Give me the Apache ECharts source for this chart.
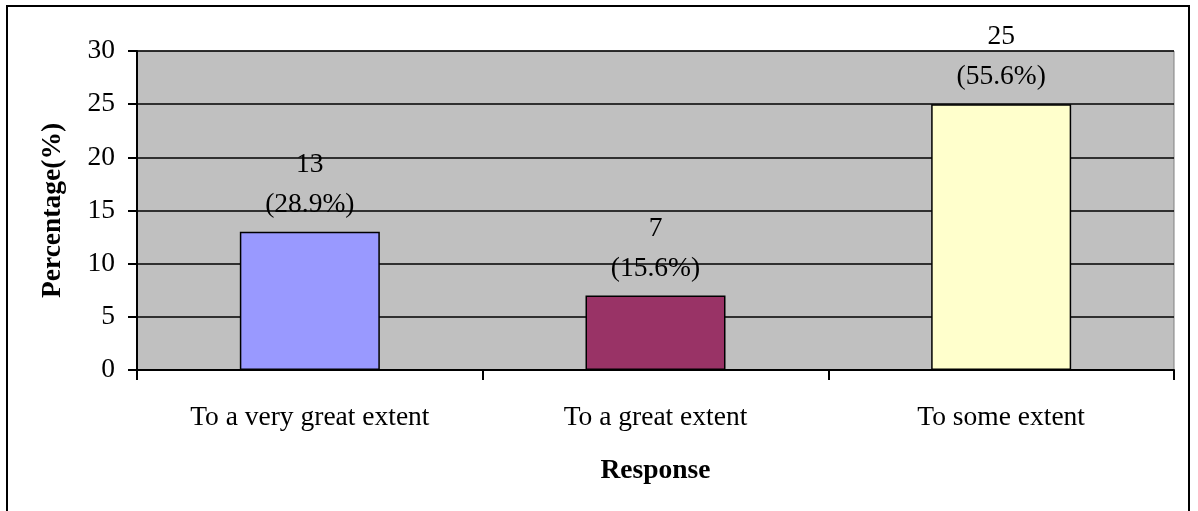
<!DOCTYPE html>
<html>
<head>
<meta charset="utf-8">
<script src="https://cdn.jsdelivr.net/npm/echarts@6/dist/echarts.min.js"></script>
<style>
html,body{margin:0;padding:0;background:#fff;}
#chart{width:1198px;height:511px;}
</style>
</head>
<body>
<div id="chart"></div>
<script>
const categories = ['To a very great extent', 'To a great extent', 'To some extent'];
const counts = [13, 7, 25];
const percents = ['28.9%', '15.6%', '55.6%'];
const barColors = ['#9999FF', '#993366', '#FFFFCC'];
const yTicks = { min: 0, max: 30, interval: 5 };

const FONT = '"Liberation Serif", "Times New Roman", serif';
const FS = 27.5;
const chart = echarts.init(document.getElementById('chart'), null, { renderer: 'canvas' });

chart.setOption({
  animation: false,
  backgroundColor: '#ffffff',
  textStyle: { fontFamily: FONT, color: '#000' },
  graphic: [{
    type: 'rect',
    shape: { x: 7, y: 6, width: 1182, height: 530 },
    style: { fill: 'none', stroke: '#000', lineWidth: 2 },
    z: 100
  }],
  grid: {
    left: 137, top: 51, right: 24, bottom: 141,
    show: true,
    backgroundColor: '#C0C0C0',
    borderColor: '#808080',
    borderWidth: 1
  },
  xAxis: {
    type: 'category',
    data: categories,
    name: 'Response',
    nameLocation: 'middle',
    nameGap: 87,
    nameTextStyle: { fontFamily: FONT, fontSize: FS, fontWeight: 'bold', color: '#000' },
    axisLine: { show: true, lineStyle: { color: '#000', width: 2 } },
    axisTick: { show: true, length: 10, lineStyle: { color: '#000', width: 2 } },
    axisLabel: { fontFamily: FONT, fontSize: FS, color: '#000', margin: 34 },
    splitLine: { show: false }
  },
  yAxis: {
    type: 'value',
    min: yTicks.min,
    max: yTicks.max,
    interval: yTicks.interval,
    name: 'Percentage(%)',
    nameLocation: 'middle',
    nameGap: 70,
    nameRotate: 90,
    nameTextStyle: { fontFamily: FONT, fontSize: FS, fontWeight: 'bold', color: '#000' },
    axisLine: { show: true, lineStyle: { color: '#000', width: 2 } },
    axisTick: { show: true, length: 9, lineStyle: { color: '#000', width: 2 } },
    axisLabel: { fontFamily: FONT, fontSize: FS, color: '#000', margin: 22 },
    splitLine: { show: true, lineStyle: { color: '#000', width: 1.5 } }
  },
  series: [{
    type: 'bar',
    barWidth: '40.5%',
    data: counts.map((v, i) => ({
      value: v,
      itemStyle: { color: barColors[i], borderColor: '#000', borderWidth: 1.5 }
    })),
    label: {
      show: true,
      position: 'top',
      distance: 7,
      fontFamily: FONT,
      fontSize: FS,
      color: '#000',
      lineHeight: 40,
      formatter: (p) => p.value + '\n(' + percents[p.dataIndex] + ')'
    }
  }]
});
</script>
</body>
</html>
